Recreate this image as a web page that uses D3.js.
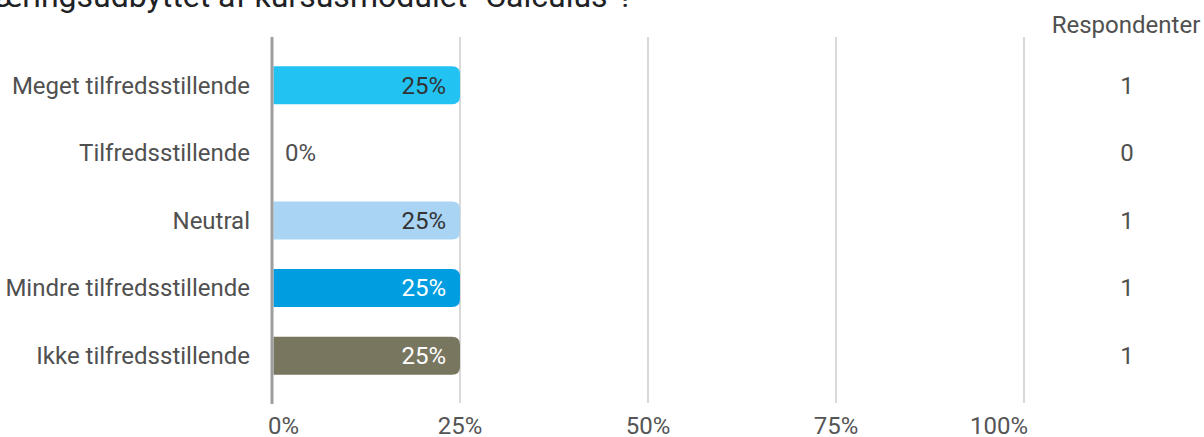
<!DOCTYPE html>
<html>
<head>
<meta charset="utf-8">
<script src="https://cdn.jsdelivr.net/npm/d3@7"></script>
<style>
  html, body { margin: 0; padding: 0; background: #fff; overflow: hidden; }
  svg { display: block; font-family: Roboto, "Noto Sans", sans-serif; }
</style>
</head>
<body>
<div id="chart"></div>
<script>
// Data
const title = "Hvordan vurderer du læringsudbyttet af kursusmodulet \"Calculus\"?";
const categories = [
    "Meget tilfredsstillende",
    "Tilfredsstillende",
    "Neutral",
    "Mindre tilfredsstillende",
    "Ikke tilfredsstillende"
];
const percents = [25, 0, 25, 25, 25];
const respondents = [1, 0, 1, 1, 1];
const barColors = ["#22c3f3", "#22c3f3", "#a9d4f4", "#009ee0", "#79765f"];
const labelColors = ["#333333", "#333333", "#333333", "#ffffff", "#ffffff"];
const ticks = [0, 25, 50, 75, 100];

const width = 1204, height = 437;
const fontSize = "24px";

const svg = d3.select("#chart").append("svg")
    .attr("width", width)
    .attr("height", height);

// Scales
const x = d3.scaleLinear().domain([0, 100]).range([272, 1024]);
const y = d3.scalePoint()
    .domain(categories)
    .range([37, 404])
    .padding(0.715);
const barHeight = 38;

// Title (cropped at top in the reference)
svg.append("text")
    .attr("x", 633)
    .attr("y", 7)
    .attr("text-anchor", "end")
    .attr("font-size", "32px")
    .attr("fill", "#202124")
    .text(title);

// Grid lines
svg.append("g")
    .selectAll("line")
    .data(ticks.slice(1))
    .join("line")
    .attr("x1", d => x(d))
    .attr("x2", d => x(d))
    .attr("y1", 37)
    .attr("y2", 403)
    .attr("stroke", "#b3b3b3")
    .attr("stroke-width", 1);

// Tick labels
svg.append("g")
    .selectAll("text")
    .data(ticks)
    .join("text")
    .attr("x", (d, i) => i === 0 ? x(d) - 4 : i === ticks.length - 1 ? x(d) + 4 : x(d))
    .attr("y", 434)
    .attr("text-anchor", (d, i) => i === 0 ? "start" : i === ticks.length - 1 ? "end" : "middle")
    .attr("font-size", fontSize)
    .attr("fill", "#555555")
    .text(d => d + "%");

// Bars with rounded right end
const r = 8;
svg.append("g")
    .selectAll("path")
    .data(categories.filter((c, i) => percents[i] > 0))
    .join("path")
    .attr("d", c => {
        const i = categories.indexOf(c);
        const x0 = x(0) + 1.5, x1 = x(percents[i]);
        const y0 = y(c) - barHeight / 2, y1 = y(c) + barHeight / 2;
        return `M${x0},${y0} H${x1 - r} Q${x1},${y0} ${x1},${y0 + r} V${y1 - r} Q${x1},${y1} ${x1 - r},${y1} H${x0} Z`;
    })
    .attr("fill", c => barColors[categories.indexOf(c)]);

// Zero axis line
svg.append("line")
    .attr("x1", x(0))
    .attr("x2", x(0))
    .attr("y1", 37)
    .attr("y2", 404)
    .attr("stroke", "#9e9e9e")
    .attr("stroke-width", 3);

// Category labels
svg.append("g")
    .selectAll("text")
    .data(categories)
    .join("text")
    .attr("x", 250)
    .attr("y", d => y(d))
    .attr("dy", "0.35em")
    .attr("text-anchor", "end")
    .attr("font-size", fontSize)
    .attr("fill", "#505050")
    .text(d => d);

// Value labels
svg.append("g")
    .selectAll("text")
    .data(categories)
    .join("text")
    .attr("x", (d, i) => percents[i] > 0 ? x(percents[i]) - 14 : x(0) + 13)
    .attr("y", d => y(d))
    .attr("dy", "0.35em")
    .attr("text-anchor", (d, i) => percents[i] > 0 ? "end" : "start")
    .attr("font-size", fontSize)
    .attr("fill", (d, i) => percents[i] > 0 ? labelColors[i] : "#505050")
    .text((d, i) => percents[i] + "%");

// Respondents column
svg.append("text")
    .attr("x", 1126)
    .attr("y", 33)
    .attr("text-anchor", "middle")
    .attr("font-size", fontSize)
    .attr("fill", "#505050")
    .text("Respondenter");

svg.append("g")
    .selectAll("text")
    .data(categories)
    .join("text")
    .attr("x", 1127)
    .attr("y", d => y(d))
    .attr("dy", "0.35em")
    .attr("text-anchor", "middle")
    .attr("font-size", fontSize)
    .attr("fill", "#505050")
    .text((d, i) => respondents[i]);
</script>
</body>
</html>
